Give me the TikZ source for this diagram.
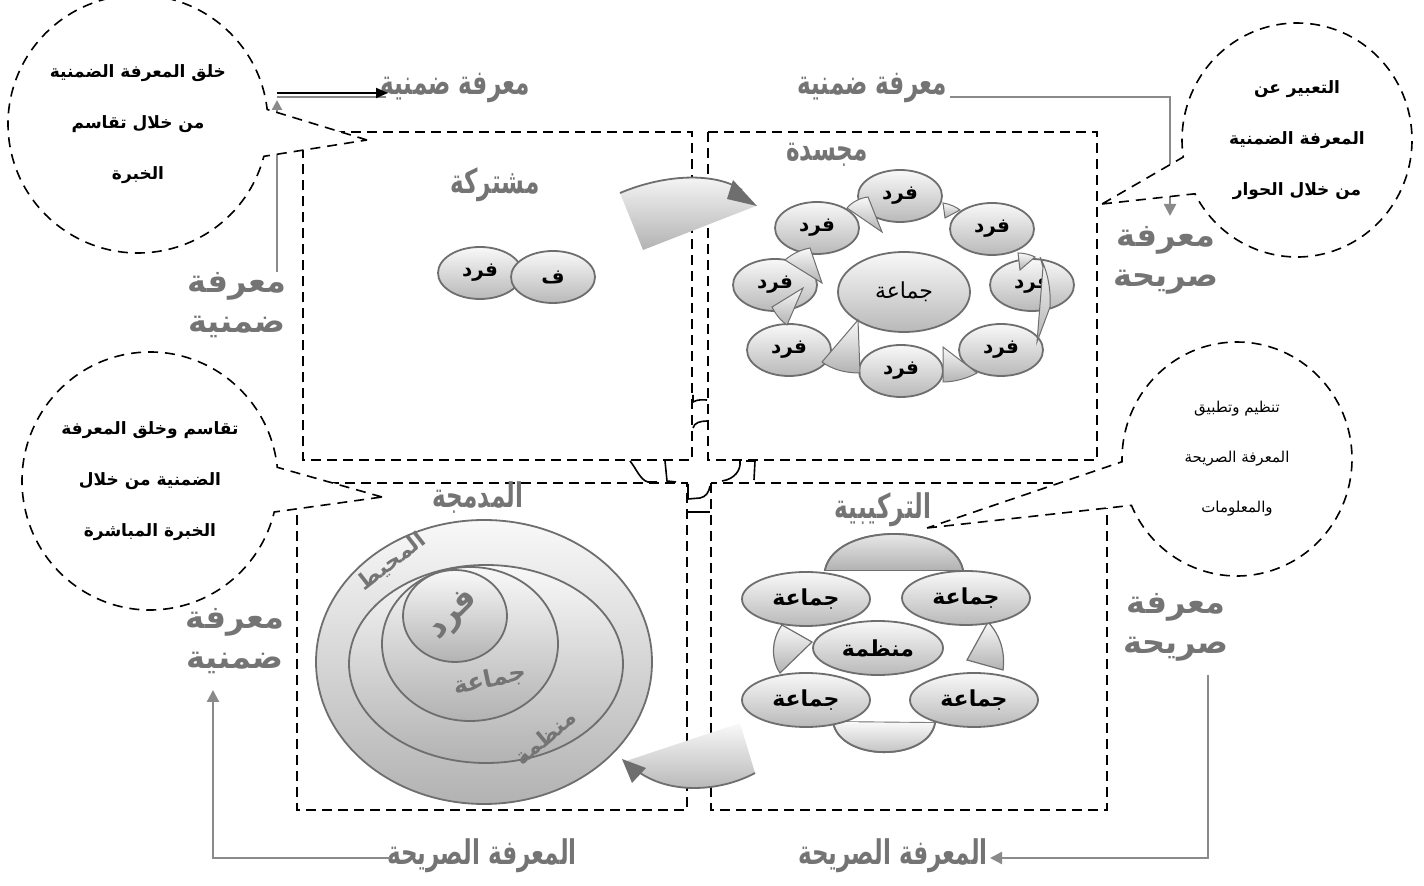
\documentclass[tikz,border=0pt]{standalone}
\usepackage{fontspec}
\usetikzlibrary{shapes.geometric,shapes.callouts,arrows.meta}
\newfontfamily\arabicfont[Script=Arabic]{DejaVu Sans}
\newfontfamily\narrowfont[Script=Arabic,FakeStretch=0.68]{DejaVu Sans}
\TeXXeTstate=1
\newcommand{\artext}[1]{\beginR #1\endR}
\definecolor{lblgray}{HTML}{747474}
\definecolor{edgegray}{HTML}{6E6E6E}
\definecolor{linegray}{HTML}{8A8A8A}

\begin{document}
\begin{tikzpicture}[x=0.5pt,y=0.5pt,
  quad/.style={draw, line width=1pt, dash pattern=on 5pt off 3pt},
  bubble/.style={ellipse callout, draw, fill=white, line width=0.8pt, dash pattern=on 5pt off 3.5pt,
    align=center, inner sep=0pt, font=\arabicfont\bfseries\fontsize{8.5}{25.5}\selectfont},
  lbl/.style={text=lblgray, font=\narrowfont\bfseries\fontsize{17}{20}\selectfont, align=center, inner sep=1pt},
  sidelbl/.style={lbl, font=\arabicfont\bfseries\fontsize{16}{20}\selectfont},
  lblin/.style={text=lblgray, font=\arabicfont\bfseries\fontsize{11}{12}\selectfont, inner sep=0pt},
  fard/.style={ellipse, draw=edgegray, line width=0.9pt, top color=gray!5, bottom color=gray!55,
    minimum width=42pt, minimum height=26pt, inner sep=0pt, font=\arabicfont\bfseries\fontsize{10}{10}\selectfont},
  jama/.style={fard, minimum width=64pt, minimum height=27pt, font=\arabicfont\bfseries\fontsize{11}{11}\selectfont},
  ring/.style={draw=edgegray, line width=0.9pt, top color=gray!5, bottom color=gray!60},
  conn/.style={draw=linegray, line width=1.2pt},
  blockarrow/.style={top color=gray!5, bottom color=gray!60},
  art/.style={line width=0.8pt}]
\useasboundingbox (0,0) rectangle (1424,-886);

% the four quadrants
\draw[quad] (303,-132) rectangle (692,-460);
\draw[quad] (708,-132) rectangle (1097,-460);
\draw[quad] (297,-483) rectangle (687,-810);
\draw[quad] (711,-483) rectangle (1107,-810);

% small pieces at the junction
\draw[art] (693,-395) -- (693,-402) .. controls (698,-399) and (703,-400) .. (707,-400);
\draw[art] (693,-428) .. controls (694,-423) and (700,-421) .. (707,-421);
\draw[art] (630,-461) .. controls (636,-468) and (640,-480) .. (648,-482) -- (657,-482);
\draw[art] (665,-461) -- (667,-481) -- (676,-482);
\draw[art] (740,-461) .. controls (741,-470) and (735,-479) .. (722,-481);
\draw[art] (746,-461) -- (755,-461) -- (754,-480);
\draw[art] (688,-484) -- (688,-499) -- (700,-498) .. controls (706,-497) and (709,-492) .. (710,-486);
\draw[art] (688,-512) -- (710,-512);

% outside labels
\node[lbl] (kTopL) at (455,-88) {\artext{معرفة ضمنية}};
\node[lbl] (kTopR) at (872,-88) {\artext{معرفة ضمنية}};
\node[sidelbl] (kSideL1) at (237,-305) {\artext{معرفة}\\\artext{ضمنية}};
\node[sidelbl] (kSideR1) at (1166,-260) {\artext{معرفة}\\\artext{صريحة}};
\node[sidelbl] (kSideL2) at (235,-641) {\artext{معرفة}\\\artext{ضمنية}};
\node[sidelbl] (kSideR2) at (1176,-627) {\artext{معرفة}\\\artext{صريحة}};
\node[lbl] (kBotL) at (482,-856) {\artext{المعرفة الصريحة}};
\node[lbl] (kBotR) at (893,-856) {\artext{المعرفة الصريحة}};

% connectors
\coordinate (cTL) at (277,-272);
\coordinate (cTLa) at (277,-100);
\coordinate (cTLb) at (277,-97);
\coordinate (cTLe) at (386,-97);
\coordinate (aTLs) at (277,-93);
\coordinate (aTLe) at (388,-93);
\coordinate (cTRa) at (950,-97);
\coordinate (cTRd) at (1170,-216);
\coordinate (cBLa) at (390,-858);
\coordinate (cBLd) at (213,-690);
\coordinate (cBRa) at (1208,-675);
\coordinate (cBRd) at (990,-858);
\draw[conn,-{Triangle[length=5pt,width=5pt]}] (cTL) -- (cTLa);
\draw[conn] (cTLb) -- (cTLe);
\draw[line width=1pt,-{Triangle[length=6pt,width=5pt]}] (aTLs) -- (aTLe);
\draw[conn,-{Triangle[length=6pt,width=6pt]}] (cTRa) -| (cTRd);
\draw[conn,-{Triangle[length=6pt,width=6pt]}] (cBLa) -| (cBLd);
\draw[conn,-{Triangle[length=6pt,width=6pt]}] (cBRa) |- (cBRd);

% bubbles
\node[bubble, minimum width=130pt, minimum height=129pt, callout pointer arc=21,
  callout absolute pointer={(367,-140)}] (bTL) at (138,-124)
  {\artext{خلق المعرفة الضمنية}\\\artext{من خلال تقاسم}\\\artext{الخبرة}};
\node[bubble, minimum width=115pt, minimum height=117pt, callout pointer arc=19,
  callout absolute pointer={(1102,-204)}] (bTR) at (1297,-140)
  {\artext{التعبير عن}\\\artext{المعرفة الضمنية}\\\artext{من خلال الحوار}};
\node[bubble, minimum width=128pt, minimum height=129pt, callout pointer arc=20,
  callout absolute pointer={(382,-497)}] (bBL) at (150,-481)
  {\artext{تقاسم وخلق المعرفة}\\\artext{الضمنية من خلال}\\\artext{الخبرة المباشرة}};
\node[bubble, minimum width=115pt, minimum height=117pt, callout pointer arc=22,
  font=\arabicfont\fontsize{7.5}{25}\selectfont,
  callout absolute pointer={(927,-528)}] (bBR) at (1237,-459)
  {\artext{تنظيم وتطبيق}\\\artext{المعرفة الصريحة}\\\artext{والمعلومات}};

% quadrant titles
\node[lbl] (tShared) at (495,-185) {\artext{مشتركة}};
\node[lbl] (tEmbod) at (827,-155) {\artext{مجسدة}};
\node[lbl] (tMerged) at (478,-498) {\artext{المدمجة}};
\node[lbl] (tCompo) at (883,-510) {\artext{التركيبية}};

% top left: two individuals
\node[fard] (p1) at (480,-273) {\artext{فرد}};
\node[fard] (p2) at (553,-277) {\artext{ف}};

% block arrows between quadrants
\shade[blockarrow] (620,-193) .. controls (665,-174) and (715,-172) .. (742,-190)
  -- (756,-206) -- (643,-250) -- cycle;
\draw[edgegray, line width=0.9pt] (620,-193) .. controls (665,-174) and (715,-172) .. (742,-190);
\fill[edgegray] (733,-180) -- (757,-206) -- (727,-199) -- cycle;
\shade[blockarrow] (740,-723) -- (755,-773) .. controls (720,-792) and (668,-795) .. (636,-770)
  -- (623,-762) -- cycle;
\draw[edgegray, line width=0.9pt] (755,-773) .. controls (720,-792) and (668,-795) .. (636,-770);
\fill[edgegray] (622,-759) -- (646,-768) -- (632,-783) -- cycle;

% top right: group of individuals
\node[fard, minimum width=66pt, minimum height=40pt, font=\arabicfont\fontsize{11}{11}\selectfont] (g0) at (904,-292) {\artext{جماعة}};
\node[fard] (f1) at (900,-196) {\artext{فرد}};
\node[fard] (f2) at (992,-229) {\artext{فرد}};
\node[fard] (f3) at (1032,-285) {\artext{فرد}};
\node[fard] (f4) at (1001,-350) {\artext{فرد}};
\node[fard] (f5) at (901,-371) {\artext{فرد}};
\node[fard] (f6) at (789,-350) {\artext{فرد}};
\node[fard] (f7) at (775,-285) {\artext{فرد}};
\node[fard] (f8) at (817,-228) {\artext{فرد}};
\shade[blockarrow, draw=edgegray, line width=0.5pt] (847,-208) .. controls (852,-202) and (860,-198) .. (868,-197) -- (882,-232) -- cycle;
\shade[blockarrow, draw=edgegray, line width=0.5pt] (943,-203) .. controls (950,-204) and (956,-207) .. (960,-210) -- (945,-218) -- cycle;
\shade[blockarrow, draw=edgegray, line width=0.5pt] (1018,-253) .. controls (1025,-253) and (1031,-255) .. (1035,-257) -- (1020,-270) -- cycle;
\shade[blockarrow, draw=edgegray, line width=0.5pt] (1040,-257) .. controls (1048,-272) and (1051,-290) .. (1050,-307) -- (1037,-342) -- (1043,-267) -- cycle;
\shade[blockarrow, draw=edgegray, line width=0.5pt] (943,-382) .. controls (955,-382) and (968,-378) .. (977,-373) -- (943,-347) -- cycle;
\shade[blockarrow, draw=edgegray, line width=0.5pt] (822,-362) .. controls (833,-370) and (846,-373) .. (860,-373) -- (858,-320) -- cycle;
\shade[blockarrow, draw=edgegray, line width=0.5pt] (772,-307) .. controls (776,-315) and (781,-321) .. (787,-325) -- (803,-288) -- cycle;
\shade[blockarrow, draw=edgegray, line width=0.5pt] (785,-260) .. controls (792,-254) and (800,-250) .. (810,-248) -- (822,-283) -- cycle;

% bottom left: nested rings
\draw[ring] (484,-662) ellipse (168 and 142);
\draw[ring] (486,-664) ellipse (137 and 99);
\draw[ring] (470,-644) ellipse (88 and 77);
\draw[ring] (455,-616) ellipse (52 and 46);
\node[lblin, rotate=38] (tMuhit) at (392,-562) {\artext{المحيط}};
\node[lblin, rotate=45, font=\arabicfont\bfseries\fontsize{16}{16}\selectfont] (tFard) at (454,-616) {\artext{فرد}};
\node[lblin, rotate=12, font=\arabicfont\bfseries\fontsize{12}{12}\selectfont] (tJama) at (490,-680) {\artext{جماعة}};
\node[lblin, rotate=40] (tMunz) at (545,-737) {\artext{منظمة}};

% bottom right: organisation of groups
\shade[ring] (825,-570) .. controls (835,-522) and (953,-522) .. (963,-570) -- cycle;
\shade[ring] (833,-722) .. controls (840,-762) and (928,-762) .. (935,-723) -- cycle;
\draw[ring] (825,-570) .. controls (835,-522) and (953,-522) .. (963,-570);
\draw[ring] (833,-722) .. controls (840,-762) and (928,-762) .. (935,-723);
\shade[blockarrow, draw=edgegray, line width=0.6pt] (782,-625) .. controls (771,-640) and (771,-660) .. (780,-673) -- (812,-642) -- cycle;
\shade[blockarrow, draw=edgegray, line width=0.6pt] (988,-622) .. controls (1002,-637) and (1005,-655) .. (1003,-670) -- (967,-660) -- cycle;
\node[jama] (j1) at (806,-599) {\artext{جماعة}};
\node[jama] (j2) at (966,-598) {\artext{جماعة}};
\node[jama] (j3) at (806,-700) {\artext{جماعة}};
\node[jama] (j4) at (974,-700) {\artext{جماعة}};
\node[jama, minimum width=65pt] (org) at (878,-648) {\artext{منظمة}};
\end{tikzpicture}
\end{document}
